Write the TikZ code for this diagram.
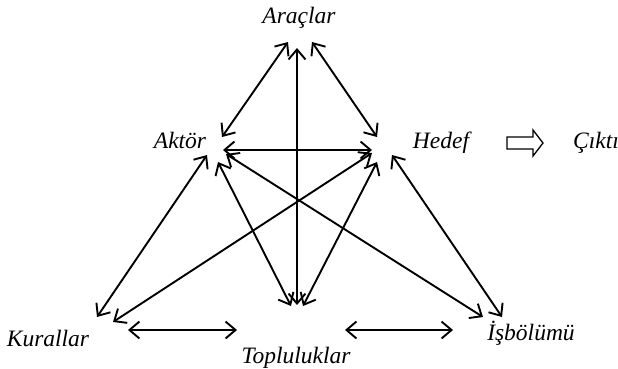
\documentclass[tikz,border=0pt]{standalone}
\usepackage{fontspec}
\setmainfont{Liberation Serif}
\usepackage{tikz}
\usetikzlibrary{arrows.meta}

\begin{document}
\begin{tikzpicture}[x=1pt, y=-1pt,
    lbl/.style={font=\fontsize{23.5}{27}\selectfont\itshape, anchor=base, inner sep=0pt},
    link/.style={{Straight Barb[length=10pt, width=17pt]}-{Straight Barb[length=10pt, width=17pt]}, line width=1.9pt}]
      \useasboundingbox (0,0) rectangle (618,368);

      % labels
      \node[lbl] (arac) at (299,23) {Araçlar};
      \node[lbl] (aktor) at (180,148) {Aktör};
      \node[lbl] (hedef) at (441,148) {Hedef};
      \node[lbl] (cikti) at (596,148) {Çıktı};
      \node[lbl] (kural) at (48,346) {Kurallar};
      \node[lbl] (toplu) at (296,363) {Topluluklar};
      \node[lbl] (isbol) at (531,340) {İşbölümü};

      % arrow ends
      \coordinate (arac-w) at (288,42);
      \coordinate (arac-s) at (297,48);
      \coordinate (arac-e) at (312,42);
      \coordinate (aktor-n) at (222,137);
      \coordinate (aktor-e) at (223,150);
      \coordinate (aktor-sw) at (207,155);
      \coordinate (aktor-s) at (218,162);
      \coordinate (aktor-se) at (226,154);
      \coordinate (hedef-n) at (377,137);
      \coordinate (hedef-w) at (372,150);
      \coordinate (hedef-sw) at (372,153);
      \coordinate (hedef-s) at (377,162);
      \coordinate (hedef-se) at (392,155);
      \coordinate (kural-n) at (97,317);
      \coordinate (kural-ne) at (113,322);
      \coordinate (kural-e) at (128,330);
      \coordinate (toplu-w) at (237,330);
      \coordinate (toplu-nw) at (291,306);
      \coordinate (toplu-n) at (297,305);
      \coordinate (toplu-ne) at (303,306);
      \coordinate (toplu-e) at (345,330);
      \coordinate (isbol-w) at (453,330);
      \coordinate (isbol-nw) at (483,317);
      \coordinate (isbol-n) at (502,317);

      \draw[link] (aktor-n) -- (arac-w);
      \draw[link] (hedef-n) -- (arac-e);
      \draw[link] (arac-s) -- (toplu-n);
      \draw[link] (aktor-e) -- (hedef-w);
      \draw[link] (aktor-sw) -- (kural-n);
      \draw[link] (aktor-s) -- (toplu-nw);
      \draw[link] (aktor-se) -- (isbol-nw);
      \draw[link] (hedef-sw) -- (kural-ne);
      \draw[link] (hedef-s) -- (toplu-ne);
      \draw[link] (hedef-se) -- (isbol-n);
      \draw[link] (kural-e) -- (toplu-w);
      \draw[link] (toplu-e) -- (isbol-w);

      % block arrow to output
      \draw[line width=1.3pt, line join=miter]
        (507,137) -- (533,137) -- (533,130) -- (543,143) -- (533,156)
        -- (533,149) -- (507,149) -- cycle;
    \end{tikzpicture}
\end{document}
